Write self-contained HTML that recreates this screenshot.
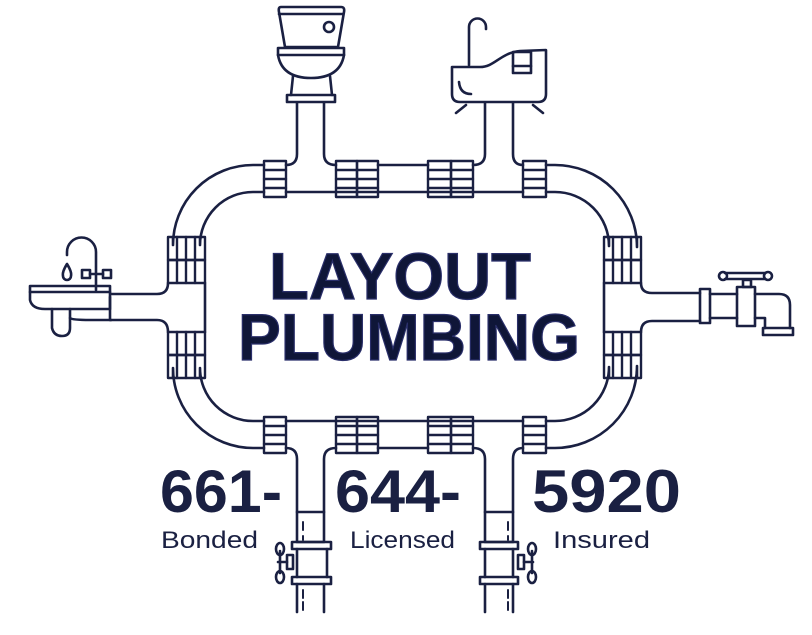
<!DOCTYPE html>
<html><head><meta charset="utf-8"><style>
html,body{margin:0;padding:0;background:#fff;}
svg{display:block}
</style></head><body>
<svg width="812" height="635" viewBox="0 0 812 635" xmlns="http://www.w3.org/2000/svg">
<g fill="none" stroke="#1a2042" stroke-width="2.6" stroke-linejoin="round" stroke-linecap="round">
<!-- top pipe -->
<path d="M264,165 L253,165 A80,80 0 0 0 173,245 L173,237"/>
<path d="M264,192 L253,192 A53,53 0 0 0 200,245 L200,237"/>
<path d="M546,165 L555,165 A82,82 0 0 1 637,247 L637,237"/>
<path d="M546,192 L555,192 A54,54 0 0 1 609,246 L609,237"/>
<path d="M286,192 L523,192"/>
<path d="M286,165 Q297,165 297,154 L297,103"/>
<path d="M336,165 Q324,165 324,154 L324,103"/>
<path d="M378,165 L428,165"/>
<path d="M473,165 Q485,165 485,154 L485,103"/>
<path d="M523,165 Q513,165 513,154 L513,103"/>
<!-- bottom pipe -->
<path d="M264,448 L253,448 A80,80 0 0 1 173,368 L173,378"/>
<path d="M264,421 L253,421 A53,53 0 0 1 200,368 L200,378"/>
<path d="M546,448 L555,448 A82,82 0 0 0 637,366 L637,378"/>
<path d="M546,421 L555,421 A54,54 0 0 0 609,367 L609,378"/>
<path d="M286,421 L523,421"/>
<path d="M286,448 Q297,448 297,459 L297,512"/>
<path d="M336,448 Q324,448 324,459 L324,512"/>
<path d="M378,448 L428,448"/>
<path d="M473,448 Q485,448 485,459 L485,512"/>
<path d="M523,448 Q513,448 513,459 L513,512"/>
<!-- left / right verticals -->
<path d="M205,283 L205,332"/>
<path d="M604,283 L604,332"/>
<path d="M168,283 Q168,294 157,294 L111,294 M111,320 L157,320 Q168,320 168,332"/>
<path d="M641,283 Q641,293 652,293 L700,293 M700,321 L652,321 Q641,321 641,332"/>
<!-- horizontal couplings -->
<g stroke-width="2.4">
<rect x="264" y="161" width="22" height="36"/><path d="M264,170H286M264,179H286M264,188H286"/>
<rect x="336" y="161" width="21" height="36"/><rect x="357" y="161" width="21" height="36"/><path d="M336,170H378M336,179H378M336,188H378"/>
<rect x="428" y="161" width="23" height="36"/><rect x="451" y="161" width="22" height="36"/><path d="M428,170H473M428,179H473M428,188H473"/>
<rect x="523" y="161" width="23" height="36"/><path d="M523,170H546M523,179H546M523,188H546"/>
<rect x="264" y="417" width="22" height="36"/><path d="M264,426H286M264,435H286M264,444H286"/>
<rect x="336" y="417" width="21" height="36"/><rect x="357" y="417" width="21" height="36"/><path d="M336,426H378M336,435H378M336,444H378"/>
<rect x="428" y="417" width="23" height="36"/><rect x="451" y="417" width="22" height="36"/><path d="M428,426H473M428,435H473M428,444H473"/>
<rect x="523" y="417" width="23" height="36"/><path d="M523,426H546M523,435H546M523,444H546"/>
<!-- vertical couplings -->
<rect x="168" y="237" width="37" height="23"/><rect x="168" y="260" width="37" height="23"/><path d="M177,237V283M186,237V283M195,237V283"/>
<rect x="168" y="332" width="37" height="23"/><rect x="168" y="355" width="37" height="23"/><path d="M177,332V378M186,332V378M195,332V378"/>
<rect x="604" y="237" width="37" height="23"/><rect x="604" y="260" width="37" height="23"/><path d="M613,237V283M622,237V283M631,237V283"/>
<rect x="604" y="332" width="37" height="23"/><rect x="604" y="355" width="37" height="23"/><path d="M613,332V378M622,332V378M631,332V378"/>
</g>
<!-- toilet -->
<path d="M281,7 L341,7 Q345,7 344,12 L338,47 L285,47 L279,12 Q278,7 281,7 Z"/>
<path d="M279,14 L343,14"/>
<circle cx="329" cy="27" r="5"/>
<rect x="278" y="48" width="66" height="7"/>
<path d="M278,55 Q282,78 311,78 Q340,78 344,55"/>
<path d="M293,76 L291,95 M330,76 L332,95"/>
<rect x="287" y="95" width="48" height="7"/>
<!-- top right sink -->
<path d="M469,65 L469,27 A8.5,8.5 0 0 1 486,27 L486,29"/>
<path d="M452,67 L480,67 C495,67 500,53 520,51 L546,50 L546,94 Q546,102 538,102 L460,102 Q452,102 452,94 Z"/>
<rect x="513" y="52" width="18" height="21"/><path d="M513,66H531"/>
<path d="M459,82 Q460,94 471,94"/>
<path d="M466,105 L456,113 M533,105 L543,113"/>
<!-- left sink -->
<rect x="30" y="286" width="80" height="6"/>
<path d="M30,292 L30,300 Q32,309 45,309 L110,309 M110,292 L110,320"/>
<path d="M110,309 L110,297"/>
<path d="M70,309 L70,328 Q70,336 62,336 Q54,336 52,328 L52,309"/>
<path d="M70,318 Q72,320 90,320 L111,320"/>
<path d="M67,255 L67,252 A14.5,14.5 0 0 1 96,252 L96,290"/>
<path d="M67,264 Q62,272 63,276 A4,4 0 0 0 71,276 Q72,272 67,264 Z"/>
<rect x="82" y="270" width="8" height="8"/><rect x="103" y="270" width="8" height="8"/><path d="M90,274H103"/>
<!-- right faucet -->
<rect x="700" y="289" width="10" height="34"/>
<path d="M710,294 L737,294 M710,318 L737,318"/>
<rect x="737" y="287" width="18" height="39"/>
<path d="M755,294 L779,294 Q790,294 790,305 L790,328 M755,318 L765,318 L765,328"/>
<rect x="763" y="328" width="30" height="7"/>
<rect x="743" y="280" width="8" height="7"/>
<path d="M725,273 L765,273 M725,279 L765,279"/>
<circle cx="723" cy="276" r="4"/><circle cx="768" cy="276" r="4"/>
<!-- bottom valves -->
<rect x="297" y="512" width="27" height="30"/>
<rect x="292" y="542" width="39" height="7"/><rect x="292" y="577" width="39" height="7"/>
<path d="M297,549 L297,577 M327,549 L327,577 M297,584 L297,612 M324,584 L324,612"/>
<path d="M303,522 V530 M303,536 V540 M303,590 V598 M303,602 V610" stroke-width="2"/>
<rect x="287" y="555" width="6" height="14"/>
<path d="M278,562 L287,562 M280,551 L280,573"/>
<ellipse cx="280" cy="549" rx="4" ry="6"/><ellipse cx="280" cy="577" rx="4" ry="6"/>
<rect x="485" y="512" width="28" height="30"/>
<rect x="480" y="542" width="38" height="7"/><rect x="480" y="577" width="38" height="7"/>
<path d="M485,549 L485,577 M513,549 L513,577 M485,584 L485,612 M513,584 L513,612"/>
<path d="M508,522 V530 M508,536 V540 M508,590 V598 M508,602 V610" stroke-width="2"/>
<rect x="518" y="555" width="6" height="14"/>
<path d="M524,562 L533,562 M532,551 L532,573"/>
<ellipse cx="532" cy="549" rx="4" ry="6"/><ellipse cx="532" cy="577" rx="4" ry="6"/>
</g>
<g font-family="'Liberation Sans', sans-serif" font-weight="bold" fill="#0f1638" stroke="#2a2f6a" stroke-width="1.2">
<text x="400" y="299" font-size="66" text-anchor="middle" textLength="262" lengthAdjust="spacingAndGlyphs">LAYOUT</text>
<text x="409" y="360" font-size="66" text-anchor="middle" textLength="342" lengthAdjust="spacingAndGlyphs">PLUMBING</text>
</g>
<g font-family="'Liberation Sans', sans-serif" fill="#1a2042">
<text x="160" y="512" font-size="60" font-weight="bold" textLength="122" lengthAdjust="spacingAndGlyphs">661-</text>
<text x="335" y="512" font-size="60" font-weight="bold" textLength="126" lengthAdjust="spacingAndGlyphs">644-</text>
<text x="532" y="512" font-size="60" font-weight="bold" textLength="149" lengthAdjust="spacingAndGlyphs">5920</text>
<text x="161" y="548" font-size="24" textLength="97" lengthAdjust="spacingAndGlyphs">Bonded</text>
<text x="350" y="548" font-size="24" textLength="105" lengthAdjust="spacingAndGlyphs">Licensed</text>
<text x="553" y="548" font-size="24" textLength="97" lengthAdjust="spacingAndGlyphs">Insured</text>
</g>
</svg>
</body></html>
